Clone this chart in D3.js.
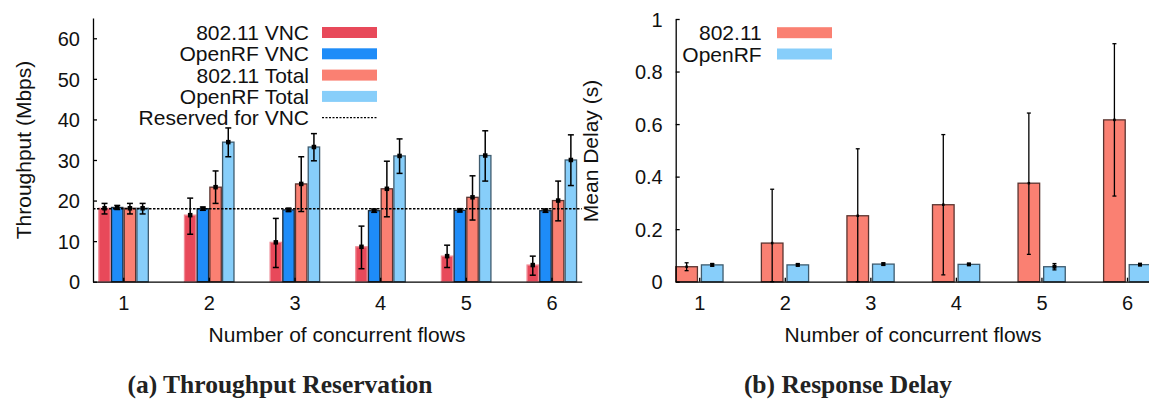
<!DOCTYPE html>
<html lang="en">
<head>
  <meta charset="utf-8">
  <script src="https://cdn.jsdelivr.net/npm/d3@7"></script>
  <style>
    body { margin: 0; background: #fff; }
    svg text { font-family: "Liberation Sans", Arial, sans-serif; fill: #111; }
    .axis path, .axis line { stroke: #000; stroke-width: 1.3; }
    .axis text { font-size: 20px; }
    .caption { font-family: "Liberation Serif", serif !important; font-weight: bold; font-size: 25.5px; fill: #222 !important; }
  </style>
</head>
<body>
  <script>
    // ---- data ----
    var flows = [1, 2, 3, 4, 5, 6];

    // (a) throughput, Mbps
    var vnc80211    = [18.1, 16.4, 9.7, 8.6, 6.3, 4.1];
    var vnc80211Lo  = [16.7, 11.7, 3.5, 3.2, 3.5, 1.6];
    var vnc80211Hi  = [19.3, 20.6, 15.6, 13.7, 9.0, 6.3];
    var vncOpenRF   = [18.3, 18.0, 17.7, 17.5, 17.6, 17.5];
    var vncOpenRFLo = [17.8, 17.6, 17.3, 17.1, 17.2, 17.1];
    var vncOpenRFHi = [18.8, 18.4, 18.1, 17.9, 18.0, 17.9];
    var tot80211    = [18.1, 23.3, 24.1, 22.9, 20.8, 20.0];
    var tot80211Lo  = [16.7, 19.3, 17.3, 16.0, 15.2, 15.0];
    var tot80211Hi  = [19.3, 27.3, 30.8, 29.7, 26.1, 24.8];
    var totOpenRF   = [18.1, 34.4, 33.2, 31.0, 31.1, 30.0];
    var totOpenRFLo = [16.7, 30.8, 29.8, 26.7, 24.8, 23.7];
    var totOpenRFHi = [19.3, 37.9, 36.5, 35.2, 37.2, 36.2];
    var reservedVNC = 18;
    var throughputTicks = [0, 10, 20, 30, 40, 50, 60];

    // (b) mean delay, s
    var delay80211    = [0.057, 0.147, 0.251, 0.293, 0.375, 0.616];
    var delay80211Lo  = [0.042, 0, 0, 0.026, 0.104, 0.326];
    var delay80211Hi  = [0.072, 0.352, 0.506, 0.560, 0.642, 0.906];
    var delayOpenRF   = [0.064, 0.064, 0.067, 0.066, 0.057, 0.065];
    var delayOpenRFLo = [0.059, 0.060, 0.063, 0.063, 0.045, 0.062];
    var delayOpenRFHi = [0.069, 0.068, 0.071, 0.069, 0.069, 0.068];
    var delayTicks = [0, 0.2, 0.4, 0.6, 0.8, 1];

    var colors = {
      vnc80211: "#e8495a", vncOpenRF: "#1e8cf8",
      tot80211: "#fa8072", totOpenRF: "#87cefa"
    };

    var svg = d3.select("body").append("svg")
      .attr("width", 1149)
      .attr("height", 400);

    // ---- shared helpers ----
    function drawAxes(g, x, y, yTicks, yFormat, baseY) {
      g.append("g")
        .attr("class", "axis")
        .attr("transform", "translate(0," + baseY + ")")
        .call(d3.axisBottom(x).tickValues(flows).tickFormat(d3.format("d"))
          .tickSizeInner(-4).tickSizeOuter(0).tickPadding(14))
        .selectAll("text").attr("dy", "0.71em");

      g.append("g")
        .attr("class", "axis")
        .attr("transform", "translate(" + x.range()[0] + ",0)")
        .call(d3.axisLeft(y).tickValues(yTicks).tickSizeInner(-4).tickSizeOuter(0).tickPadding(13).tickFormat(yFormat))
        .selectAll("text").attr("dy", "0.36em");
    }

    function drawSeries(g, x, y, s) {
      var rows = flows.map(function(f, i) {
        return { f: f, v: s.values[i], lo: s.lo[i], hi: s.hi[i] };
      });
      g.append("g").selectAll("rect")
        .data(rows)
        .enter().append("rect")
          .attr("x", d => x(d.f) + s.offset)
          .attr("width", s.width)
          .attr("y", d => y(d.v))
          .attr("height", d => y(0) - y(d.v))
          .attr("fill", s.color)
          .attr("stroke", s.stroke)
          .attr("stroke-width", 1.3);

      var err = g.append("g")
        .attr("stroke", "#000")
        .attr("stroke-width", s.errWidth);
      var cx = d => x(d.f) + s.offset + s.width / 2;
      err.selectAll("line.v").data(rows).enter().append("line")
        .attr("class", "v")
        .attr("x1", cx).attr("x2", cx)
        .attr("y1", d => y(d.lo)).attr("y2", d => y(d.hi));
      err.selectAll("line.t").data(rows).enter().append("line")
        .attr("class", "t")
        .attr("x1", d => cx(d) - s.cap).attr("x2", d => cx(d) + s.cap)
        .attr("y1", d => y(d.hi)).attr("y2", d => y(d.hi));
      err.selectAll("line.b").data(rows).enter().append("line")
        .attr("class", "b")
        .attr("x1", d => cx(d) - s.cap).attr("x2", d => cx(d) + s.cap)
        .attr("y1", d => y(d.lo)).attr("y2", d => y(d.lo));
      g.append("g").selectAll("rect")
        .data(rows)
        .enter().append("rect")
          .attr("x", d => cx(d) - s.marker / 2)
          .attr("y", d => y(d.v) - s.marker / 2)
          .attr("width", s.marker)
          .attr("height", s.marker)
          .attr("fill", "#000");
    }

    function drawLegend(g, items, textRight, swatchX, top) {
      items.forEach(function(it, i) {
        var cy = top + i * 21.3;
        g.append("text")
          .attr("x", textRight)
          .attr("y", cy)
          .attr("dy", "0.36em")
          .attr("text-anchor", "end")
          .style("font-size", "21px")
          .text(it.label);
        if (it.dotted) {
          g.append("line")
            .attr("x1", swatchX).attr("x2", swatchX + 55)
            .attr("y1", cy).attr("y2", cy)
            .attr("stroke", "#000")
            .attr("stroke-width", 1.2)
            .attr("stroke-dasharray", "2,1.5");
        } else {
          g.append("rect")
            .attr("x", swatchX).attr("y", cy - 5.5)
            .attr("width", 55).attr("height", 11)
            .attr("fill", it.color);
        }
      });
    }

    // ---- (a) throughput reservation ----
    var xA = d3.scaleLinear().domain([0.647, 6.353]).range([93, 581.7]);
    var yA = d3.scaleLinear().domain([0, 65]).range([281.7, 18]);
    var gA = svg.append("g");

    var seriesA = [
      { values: vnc80211, lo: vnc80211Lo, hi: vnc80211Hi, color: colors.vnc80211, stroke: "#f08a95" },
      { values: vncOpenRF, lo: vncOpenRFLo, hi: vncOpenRFHi, color: colors.vncOpenRF, stroke: "#1a2a3a" },
      { values: tot80211, lo: tot80211Lo, hi: tot80211Hi, color: colors.tot80211, stroke: "#5a3430" },
      { values: totOpenRF, lo: totOpenRFLo, hi: totOpenRFHi, color: colors.totOpenRF, stroke: "#3e5b6e" }
    ];
    seriesA.forEach(function(s, k) {
      s.offset = (k - 2) * 12.7 + 1;
      s.width = 11.4;
      s.errWidth = 1.5;
      s.cap = 3;
      s.marker = 4.5;
      drawSeries(gA, xA, yA, s);
    });

    gA.append("line")
      .attr("x1", xA.range()[0]).attr("x2", xA.range()[1])
      .attr("y1", yA(reservedVNC)).attr("y2", yA(reservedVNC))
      .attr("stroke", "#000")
      .attr("stroke-width", 1.4)
      .attr("stroke-dasharray", "2.5,1.5");

    drawAxes(gA, xA, yA, throughputTicks, d3.format("d"), yA(0));

    drawLegend(gA, [
      { label: "802.11 VNC", color: colors.vnc80211 },
      { label: "OpenRF VNC", color: colors.vncOpenRF },
      { label: "802.11 Total", color: colors.tot80211 },
      { label: "OpenRF Total", color: colors.totOpenRF },
      { label: "Reserved for VNC", dotted: true }
    ], 309, 322, 32.5);

    gA.append("text")
      .attr("transform", "translate(31,150) rotate(-90)")
      .attr("text-anchor", "middle")
      .style("font-size", "21px")
      .text("Throughput (Mbps)");

    gA.append("text")
      .attr("x", 337).attr("y", 341.5)
      .attr("text-anchor", "middle")
      .style("font-size", "21px")
      .text("Number of concurrent flows");

    gA.append("text")
      .attr("class", "caption")
      .attr("x", 280).attr("y", 392.5)
      .attr("text-anchor", "middle")
      .text("(a) Throughput Reservation");

    // ---- (b) response delay ----
    var xB = d3.scaleLinear().domain([0.725, 6.257]).range([675.7, 1149]);
    var yB = d3.scaleLinear().domain([0, 1]).range([281.7, 19]);
    var gB = svg.append("g");

    var seriesB = [
      { values: delay80211, lo: delay80211Lo, hi: delay80211Hi, color: colors.tot80211, stroke: "#5a3430", offset: -23.4 },
      { values: delayOpenRF, lo: delayOpenRFLo, hi: delayOpenRFHi, color: colors.totOpenRF, stroke: "#3e5b6e", offset: 2.2 }
    ];
    seriesB.forEach(function(s, k) {
      s.width = 21.6;
      s.errWidth = 1.3;
      s.cap = 2;
      s.marker = k == 0 ? 2.5 : 4;
      drawSeries(gB, xB, yB, s);
    });

    drawAxes(gB, xB, yB, delayTicks, d3.format("~g"), yB(0));

    drawLegend(gB, [
      { label: "802.11", color: colors.tot80211 },
      { label: "OpenRF", color: colors.totOpenRF }
    ], 761.7, 777, 32.7);

    gB.append("text")
      .attr("transform", "translate(598,151) rotate(-90)")
      .attr("text-anchor", "middle")
      .style("font-size", "21px")
      .text("Mean Delay (s)");

    gB.append("text")
      .attr("x", 913).attr("y", 341.5)
      .attr("text-anchor", "middle")
      .style("font-size", "21px")
      .text("Number of concurrent flows");

    gB.append("text")
      .attr("class", "caption")
      .attr("x", 848).attr("y", 392.5)
      .attr("text-anchor", "middle")
      .text("(b) Response Delay");
  </script>
</body>
</html>
